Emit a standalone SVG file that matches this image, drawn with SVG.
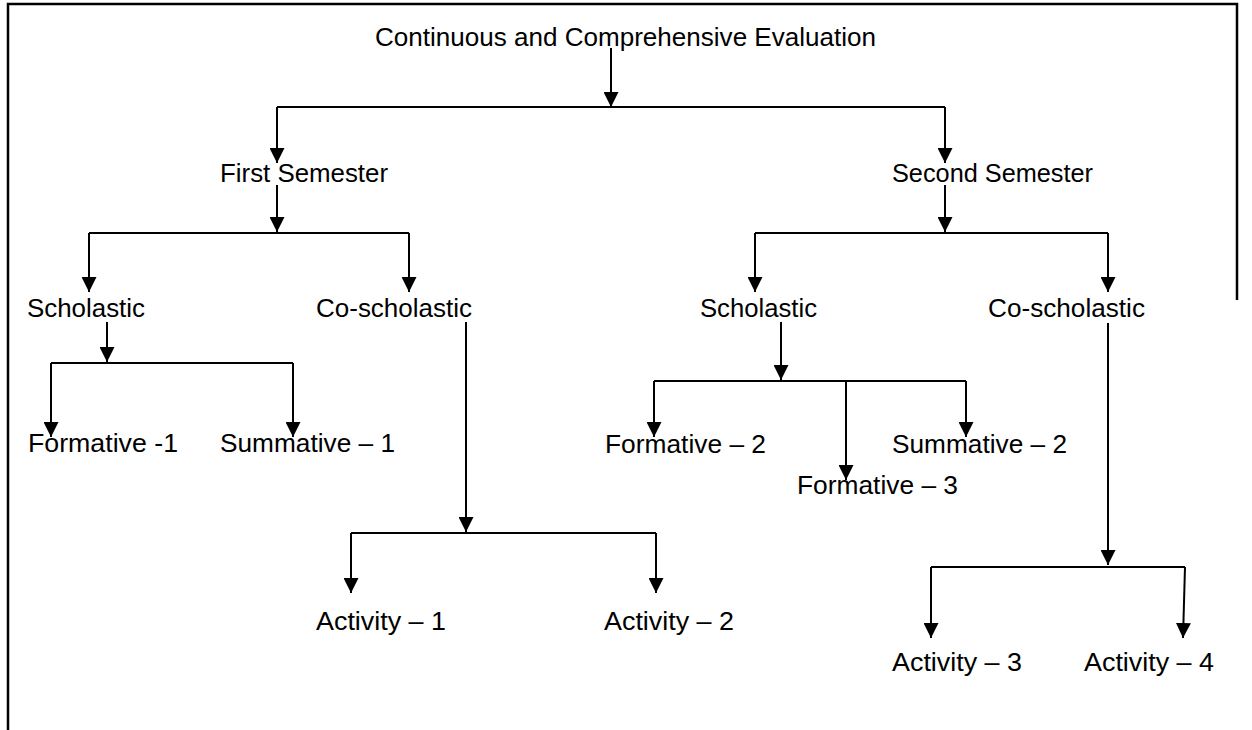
<svg xmlns="http://www.w3.org/2000/svg" width="1252" height="730" viewBox="0 0 1252 730">
<style>
  text { font-family: "Liberation Sans", Arial, sans-serif; font-size: 26px; fill: #000; }
  .c { fill: none; stroke: #000; stroke-width: 2; }
  .b { fill: none; stroke: #000; stroke-width: 2.5; }
</style>
<defs>
  <marker id="ah" markerUnits="userSpaceOnUse" markerWidth="15" markerHeight="15" viewBox="0 0 15 15" refX="15" refY="7.5" orient="auto">
    <path d="M0,0 L15,7.5 L0,15 Z" fill="#000"/>
  </marker>
</defs>
<rect width="1252" height="730" fill="#fff"/>
<g id="frame">
  <path class="b" d="M8,730 V4 H1237 V300"/>
</g>
<g id="connectors">
  <path class="c" d="M611,48 V107" marker-end="url(#ah)"/>
  <path class="c" d="M277,107 H945"/>
  <path class="c" d="M277,107 V163" marker-end="url(#ah)"/>
  <path class="c" d="M945,107 V163" marker-end="url(#ah)"/>
  <path class="c" d="M277,185 V232" marker-end="url(#ah)"/>
  <path class="c" d="M89,233 H409"/>
  <path class="c" d="M89,233 V292" marker-end="url(#ah)"/>
  <path class="c" d="M409,233 V292" marker-end="url(#ah)"/>
  <path class="c" d="M945,185 V232" marker-end="url(#ah)"/>
  <path class="c" d="M755,233 H1108"/>
  <path class="c" d="M755,233 V292" marker-end="url(#ah)"/>
  <path class="c" d="M1108,233 V292" marker-end="url(#ah)"/>
  <path class="c" d="M107,322 V362" marker-end="url(#ah)"/>
  <path class="c" d="M51,363 H293"/>
  <path class="c" d="M51,363 V437" marker-end="url(#ah)"/>
  <path class="c" d="M293,363 V437" marker-end="url(#ah)"/>
  <path class="c" d="M466,322 V532" marker-end="url(#ah)"/>
  <path class="c" d="M351,533 H656"/>
  <path class="c" d="M351,533 V593" marker-end="url(#ah)"/>
  <path class="c" d="M656,533 V593" marker-end="url(#ah)"/>
  <path class="c" d="M781,322 V380" marker-end="url(#ah)"/>
  <path class="c" d="M654,381 H966"/>
  <path class="c" d="M654,381 V437" marker-end="url(#ah)"/>
  <path class="c" d="M966,381 V437" marker-end="url(#ah)"/>
  <path class="c" d="M846,381 V480" marker-end="url(#ah)"/>
  <path class="c" d="M1108,323 V565" marker-end="url(#ah)"/>
  <path class="c" d="M931,567 H1185"/>
  <path class="c" d="M931,567 V638" marker-end="url(#ah)"/>
  <path class="c" d="M1185,567 L1183,638" marker-end="url(#ah)"/>
</g>
<g id="n-cce"><text x="375" y="46" textLength="501" lengthAdjust="spacingAndGlyphs">Continuous and Comprehensive Evaluation</text></g>
<g id="n-sem1"><text x="220" y="182" textLength="168" lengthAdjust="spacingAndGlyphs">First Semester</text></g>
<g id="n-sem2"><text x="892" y="182" textLength="201" lengthAdjust="spacingAndGlyphs">Second Semester</text></g>
<g id="n-sch1"><text x="27" y="317" textLength="118" lengthAdjust="spacingAndGlyphs">Scholastic</text></g>
<g id="n-cosch1"><text x="316" y="317" textLength="156" lengthAdjust="spacingAndGlyphs">Co-scholastic</text></g>
<g id="n-sch2"><text x="700" y="317" textLength="117" lengthAdjust="spacingAndGlyphs">Scholastic</text></g>
<g id="n-cosch2"><text x="988" y="317" textLength="157" lengthAdjust="spacingAndGlyphs">Co-scholastic</text></g>
<g id="n-f1"><text x="28" y="452" textLength="150" lengthAdjust="spacingAndGlyphs">Formative -1</text></g>
<g id="n-s1"><text x="220" y="452" textLength="175" lengthAdjust="spacingAndGlyphs">Summative – 1</text></g>
<g id="n-f2"><text x="605" y="453" textLength="161" lengthAdjust="spacingAndGlyphs">Formative – 2</text></g>
<g id="n-s2"><text x="892" y="453" textLength="175" lengthAdjust="spacingAndGlyphs">Summative – 2</text></g>
<g id="n-f3"><text x="797" y="494" textLength="161" lengthAdjust="spacingAndGlyphs">Formative – 3</text></g>
<g id="n-a1"><text x="316" y="630" textLength="130" lengthAdjust="spacingAndGlyphs">Activity – 1</text></g>
<g id="n-a2"><text x="604" y="630" textLength="130" lengthAdjust="spacingAndGlyphs">Activity – 2</text></g>
<g id="n-a3"><text x="892" y="671" textLength="130" lengthAdjust="spacingAndGlyphs">Activity – 3</text></g>
<g id="n-a4"><text x="1084" y="671" textLength="130" lengthAdjust="spacingAndGlyphs">Activity – 4</text></g>
</svg>
